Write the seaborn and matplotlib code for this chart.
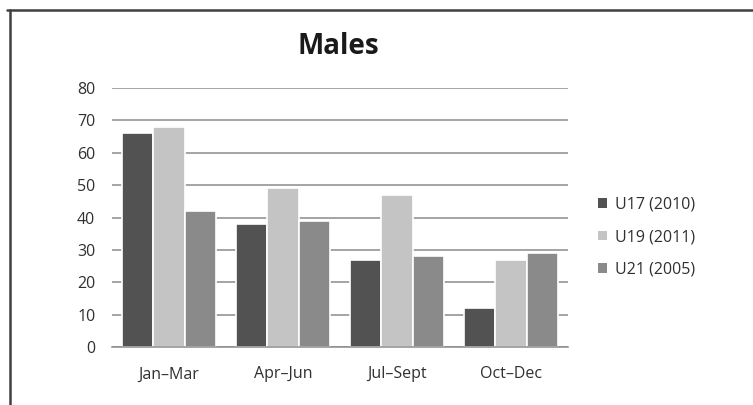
import matplotlib
matplotlib.use("Agg")
import matplotlib.pyplot as plt
from matplotlib.lines import Line2D
from matplotlib.patches import Patch
import seaborn as sns
import pandas as pd

categories = ["Jan–Mar", "Apr–Jun", "Jul–Sept", "Oct–Dec"]
series_names = ["U17 (2010)", "U19 (2011)", "U21 (2005)"]
u17 = [66, 38, 27, 12]
u19 = [68, 49, 47, 27]
u21 = [42, 39, 28, 29]
y_ticks = [0, 10, 20, 30, 40, 50, 60, 70, 80]
colors = ["#525252", "#c4c4c4", "#8a8a8a"]

rows = []
for name, vals in zip(series_names, [u17, u19, u21]):
    for c, v in zip(categories, vals):
        rows.append({"Quarter": c, "Series": name, "Value": v})
df = pd.DataFrame(rows)

sns.set_theme(style="white")
plt.rcParams["font.family"] = ["Open Sans", "DejaVu Sans"]

fig = plt.figure(figsize=(7.53, 4.05), dpi=100)
ax = fig.add_axes([112/753, 1-347/405, (568-112)/753, (347-88)/405])

sns.barplot(data=df, x="Quarter", y="Value", hue="Series", order=categories,
            hue_order=series_names, palette=colors, width=0.82,
            edgecolor="white", linewidth=1.2, ax=ax, legend=False, errorbar=None)

ax.set_ylim(0, 80)
ax.set_yticks(y_ticks)
ax.set_xlim(-0.5, 3.5)
ax.yaxis.grid(True, color="#8c8c8c", linewidth=1.1)
ax.set_axisbelow(True)
for s in ["top", "right", "left"]:
    ax.spines[s].set_visible(False)
ax.spines["bottom"].set_color("#8c8c8c")
ax.spines["bottom"].set_linewidth(1.1)
ax.tick_params(axis="both", length=0, labelsize=11.5, colors="#303030")
ax.tick_params(axis="x", pad=14)
ax.tick_params(axis="y", pad=12)
ax.set_xlabel("")
ax.set_ylabel("")

fig.text(338/753, 1-47/405, "Males", ha="center", va="center",
         fontsize=20, fontweight="bold", color="#1a1a1a")

handles = [Patch(facecolor=c, edgecolor="none") for c in colors]
fig.legend(handles, series_names, loc="upper left",
           bbox_to_anchor=(584/753, 1-182/405), frameon=False,
           fontsize=11.5, handlelength=0.55, handleheight=0.55, handletextpad=0.5,
           labelspacing=1.05, labelcolor="#303030")

fig.add_artist(Line2D([7/753, 1], [1-10/405, 1-10/405], transform=fig.transFigure,
                      color="#404040", linewidth=1.8))
fig.add_artist(Line2D([10/753, 10/753], [0, 1-10/405], transform=fig.transFigure,
                      color="#404040", linewidth=1.8))

fig.savefig("out.png", dpi=100)
